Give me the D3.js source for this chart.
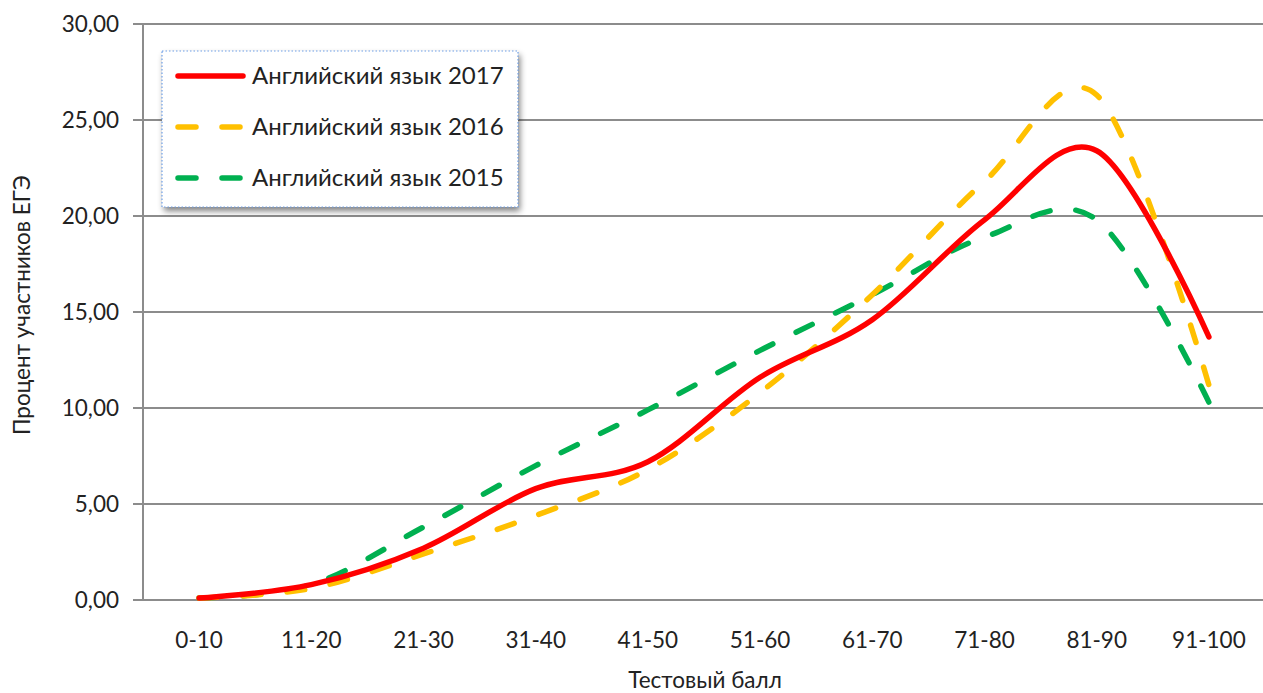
<!DOCTYPE html>
<html><head><meta charset="utf-8">
<script src="https://cdn.jsdelivr.net/npm/d3@7/dist/d3.min.js"></script>
<style>body{margin:0;background:#fff}svg{display:block}</style>
</head><body><svg id="c" width="1263" height="693"></svg>
<script>
const categories = ["0-10","11-20","21-30","31-40","41-50","51-60","61-70","71-80","81-90","91-100"];
const eng2017 = [0.1, 0.8, 2.7, 5.8, 7.2, 11.6, 14.6, 19.8, 23.4, 13.7];
const eng2016 = [0.1, 0.6, 2.4, 4.4, 6.8, 10.8, 15.9, 21.8, 26.3, 11.2];
const eng2015 = [0.1, 0.8, 3.8, 7.0, 9.9, 13.0, 15.9, 18.9, 19.8, 10.3];
const yTicks = [0, 5, 10, 15, 20, 25, 30];
const seriesNames = ["Английский язык 2017", "Английский язык 2016", "Английский язык 2015"];
const yTitle = "Процент участников ЕГЭ";
const xTitle = "Тестовый балл";

const series = [
  {name: seriesNames[0], values: eng2017, color: "#ff0000", dash: null},
  {name: seriesNames[1], values: eng2016, color: "#ffc000", dash: "18,26"},
  {name: seriesNames[2], values: eng2015, color: "#00b050", dash: "18,26"}
];

const svg = d3.select("#c");
const font = "Lato, 'Open Sans', sans-serif";
const fs = 22.5;
const L = 143, R = 1265, T = 24, B = 600;
const x = d3.scalePoint().domain(categories).range([L, R]).padding(0.5);
const y = d3.scaleLinear().domain([0, 30]).range([B, T]);

// gridlines
svg.append("g").selectAll("line").data(yTicks).join("line")
  .attr("x1", L - 10).attr("x2", R).attr("y1", d => y(d)).attr("y2", d => y(d))
  .attr("stroke", "#8c8c8c").attr("stroke-width", 2);
// y axis line
svg.append("line").attr("x1", L).attr("x2", L).attr("y1", T).attr("y2", B)
  .attr("stroke", "#8c8c8c").attr("stroke-width", 2);

// y tick labels
const fmt = v => d3.format(".2f")(v).replace(".", ",");
svg.append("g").selectAll("text").data(yTicks).join("text")
  .attr("x", L - 24).attr("y", d => y(d)).attr("dy", "0.35em")
  .attr("text-anchor", "end").attr("font-family", font).attr("font-size", fs)
  .attr("fill", "#222").text(fmt);

// x tick labels
svg.append("g").selectAll("text").data(categories).join("text")
  .attr("x", d => x(d)).attr("y", 640).attr("dy", "0.35em")
  .attr("text-anchor", "middle").attr("font-family", font).attr("font-size", fs)
  .attr("fill", "#222").text(d => d);

// titles
svg.append("text").attr("x", 705).attr("y", 680).attr("dy", "0.35em")
  .attr("text-anchor", "middle").attr("font-family", font).attr("font-size", fs)
  .attr("fill", "#222").text(xTitle);
svg.append("text").attr("transform", `translate(22,305) rotate(-90)`)
  .attr("dy", "0.35em").attr("text-anchor", "middle").attr("font-family", font)
  .attr("font-size", fs).attr("fill", "#222").text(yTitle);

// lines
const line = d3.line().x((d, i) => x(categories[i])).y(d => y(d)).curve(d3.curveCardinal.tension(0));
const order = [series[2], series[1], series[0]];
svg.append("g").selectAll("path").data(order).join("path")
  .attr("d", d => line(d.values)).attr("fill", "none")
  .attr("stroke", d => d.color).attr("stroke-width", 5.5)
  .attr("stroke-linecap", "round").attr("stroke-linejoin", "round")
  .attr("stroke-dasharray", d => d.dash);

// legend
const defs = svg.append("defs");
const f = defs.append("filter").attr("id", "sh").attr("x", "-10%").attr("y", "-10%").attr("width", "130%").attr("height", "140%");
f.append("feGaussianBlur").attr("in", "SourceAlpha").attr("stdDeviation", 3);
f.append("feOffset").attr("dx", 2).attr("dy", 4).attr("result", "ob");
f.append("feComponentTransfer").append("feFuncA").attr("type", "linear").attr("slope", 0.5);
const m = f.append("feMerge"); m.append("feMergeNode"); m.append("feMergeNode").attr("in", "SourceGraphic");

const lg = svg.append("g");
lg.append("rect").attr("x", 162).attr("y", 51).attr("width", 356).attr("height", 156)
  .attr("fill", "#fff").attr("filter", "url(#sh)");
lg.append("rect").attr("x", 162).attr("y", 51).attr("width", 356).attr("height", 156)
  .attr("fill", "none").attr("stroke", "#6fa0e8").attr("stroke-width", 1.2).attr("stroke-dasharray", "1.5,2");
const items = lg.selectAll("g.item").data(series).join("g").attr("class", "item")
  .attr("transform", (d, i) => `translate(0,${76 + i * 51})`);
items.append("line").attr("x1", 178).attr("x2", 243).attr("y1", 0).attr("y2", 0)
  .attr("stroke", d => d.color).attr("stroke-width", 5.5).attr("stroke-linecap", "round")
  .attr("stroke-dasharray", d => d.dash);
items.append("text").attr("x", 252).attr("y", 0).attr("dy", "0.35em")
  .attr("font-family", font).attr("font-size", 24).attr("fill", "#222").text(d => d.name);
</script></body></html>
